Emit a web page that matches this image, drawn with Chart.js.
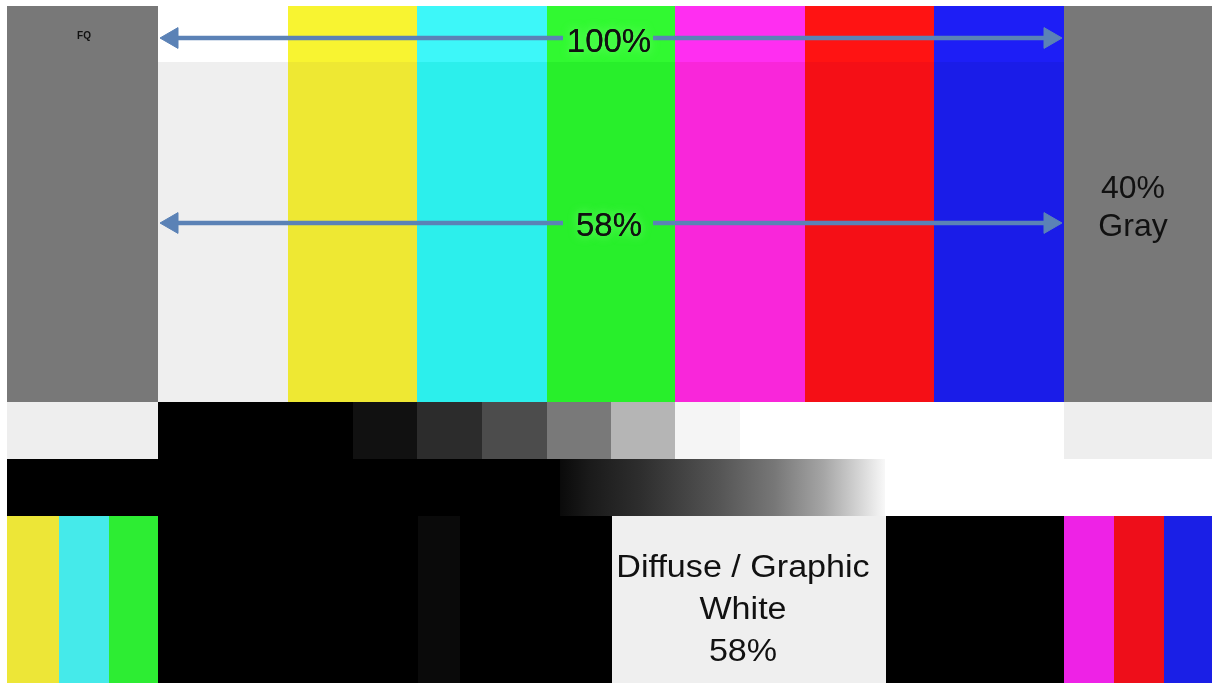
<!DOCTYPE html>
<html>
<head>
<meta charset="utf-8">
<script src="https://cdn.jsdelivr.net/npm/chart.js@4.4.1/dist/chart.umd.min.js"></script>
<style>
  html, body { margin: 0; padding: 0; background: #ffffff; overflow: hidden; }
  canvas { display: block; }
</style>
</head>
<body>
<canvas id="c" width="1212" height="683"></canvas>
<script>
// ---------- values (pattern units = picture pixels) ----------
const bandNames  = ['100% bars', '58% bars', 'grey steps', 'ramp', 'bottom row'];
const bandTop    = [6, 62, 402, 459, 516];
const bandBottom = [62, 402, 459, 516, 683];

const barNames     = ['40% Gray', 'White', 'Yellow', 'Cyan', 'Green', 'Magenta', 'Red', 'Blue', '40% Gray'];
const barEdges     = [7, 158, 288, 417, 547, 675, 805, 934, 1064, 1212];
const barColors100 = ['#787878', '#ffffff', '#f8f431', '#3df7f9', '#31f931', '#ff2ef1', '#ff1313', '#1d1ef6', '#787878'];
const barColors58  = ['#787878', '#efefef', '#eee833', '#2cefec', '#28ef2b', '#f926da', '#f50f16', '#1a1ce8', '#787878'];

const stepEdges  = [7, 158, 353, 417, 482, 547, 611, 675, 740, 1064, 1212];
const stepColors = ['#eeeeee', '#000000', '#111111', '#2c2c2c', '#4c4c4c', '#797979', '#b5b5b5', '#f5f5f5', '#ffffff', '#eeeeee'];

const rampEdges     = [7, 560, 885, 1212];
const rampFills     = ['#000000', 'ramp', '#ffffff'];
const rampStopPos   = [0, 0.09, 0.25, 0.49, 0.66, 0.81, 0.91, 1];
const rampStopGray  = [10, 26, 46, 85, 119, 165, 208, 248];

const lowEdges  = [7, 59, 109, 158, 418, 460, 612, 886, 1064, 1114, 1164, 1212];
const lowColors = ['#ede637', '#45eaea', '#2ded33', '#000000', '#0a0a0a', '#000000', '#efefef', '#000000', '#ee22e6', '#ee0e1a', '#1a1fe6'];

const arrowLevels = [38, 223];          // 100% and 58% arrows
const arrowSpan   = [160, 1062];        // arrow tips
const arrowGap    = [563, 653];         // where the label interrupts the arrow

const labelLines  = [['FQ'], ['100%'], ['58%'], ['40%', 'Gray'], ['Diffuse / Graphic', 'White', '58%']];
const labelX      = [84, 609, 609, 1133, 743];
const labelY      = [39, 52, 236, 198, 577];

// ---------- layout / style ----------
const X_MIN = 7, X_MAX = 1212, Y_MIN = 6, Y_MAX = 683;
const PX_PER_UNIT = 1;   // chart area is 1205 x 677 px for 1205 x 677 units
const ARROW_COLOR = '#5b82b6';
const HEAD_R = 12;
const FONT = '"Liberation Sans", Arial, Helvetica, sans-serif';
const labelFont    = ['bold 10px ' + FONT, '33px ' + FONT, '33px ' + FONT, '32px ' + FONT, '31px ' + FONT];
const labelStretch = [1, 1, 1, 1, 1.1];
const labelLead    = [0, 0, 0, 38, 42];
const labelHalo    = [false, true, true, false, false];

function segments(edges) {
  const out = [];
  for (let i = 0; i < edges.length - 1; i++) out.push([edges[i], edges[i + 1]]);
  return out;
}

function bandDataset(b, edges, colors) {
  const center = (bandTop[b] + bandBottom[b]) / 2;
  return {
    type: 'bar',
    label: bandNames[b],
    indexAxis: 'y',
    data: segments(edges).map(s => ({ x: s, y: center })),
    backgroundColor: colors,
    barThickness: (bandBottom[b] - bandTop[b]) * PX_PER_UNIT,
    grouped: false,
    inflateAmount: 0,
    borderWidth: 0,
    order: 2
  };
}

function rampColor(ctx) {
  const fill = rampFills[ctx.dataIndex];
  if (fill !== 'ramp') return fill;
  const chart = ctx.chart;
  const xs = chart.scales && chart.scales.x;
  if (!xs || !chart.chartArea) return '#777777';
  const g = chart.ctx.createLinearGradient(xs.getPixelForValue(rampEdges[1]), 0, xs.getPixelForValue(rampEdges[2]), 0);
  rampStopPos.forEach((p, i) => {
    const v = rampStopGray[i];
    g.addColorStop(p, `rgb(${v},${v},${v})`);
  });
  return g;
}

function arrowDataset(y) {
  const mid = (arrowGap[0] + arrowGap[1]) / 2;
  return {
    type: 'line',
    label: 'arrow',
    indexAxis: 'x',
    data: [
      { x: arrowSpan[0] + HEAD_R, y: y },
      { x: arrowGap[0], y: y },
      { x: mid, y: null },
      { x: arrowGap[1], y: y },
      { x: arrowSpan[1] - HEAD_R, y: y }
    ],
    borderColor: ARROW_COLOR,
    borderWidth: 4.5,
    spanGaps: false,
    tension: 0,
    pointStyle: 'triangle',
    pointRadius: [HEAD_R, 0, 0, 0, HEAD_R],
    pointHoverRadius: [HEAD_R, 0, 0, 0, HEAD_R],
    pointRotation: [-90, 0, 0, 0, 90],
    pointBackgroundColor: ARROW_COLOR,
    pointBorderColor: ARROW_COLOR,
    pointBorderWidth: 1,
    order: 1
  };
}

const datasets = [
  bandDataset(0, barEdges, barColors100),
  bandDataset(1, barEdges, barColors58),
  bandDataset(2, stepEdges, stepColors),
  Object.assign(bandDataset(3, rampEdges, rampFills), { backgroundColor: rampColor }),
  bandDataset(4, lowEdges, lowColors),
  ...arrowLevels.map(arrowDataset)
];

const labelPlugin = {
  id: 'patternLabels',
  afterDatasetsDraw(chart) {
    const { ctx, scales: { x, y } } = chart;
    labelLines.forEach((lines, i) => {
      lines.forEach((t, k) => {
        const px = x.getPixelForValue(labelX[i]);
        const py = y.getPixelForValue(labelY[i] + k * labelLead[i]);
        ctx.save();
        ctx.translate(px, py);
        ctx.scale(labelStretch[i], 1);
        ctx.font = labelFont[i];
        ctx.textAlign = 'center';
        ctx.textBaseline = 'alphabetic';
        ctx.fillStyle = '#111111';
        if (labelHalo[i]) {
          ctx.save();
          ctx.shadowColor = 'rgba(130,255,130,0.9)';
          ctx.shadowBlur = 10;
          ctx.fillText(t, 0, 0);
          ctx.restore();
        }
        ctx.fillText(t, 0, 0);
        ctx.restore();
      });
    });
  }
};

new Chart(document.getElementById('c'), {
  type: 'bar',
  data: { datasets },
  options: {
    responsive: false,
    animation: false,
    devicePixelRatio: 1,
    layout: { autoPadding: false, padding: { left: X_MIN, top: Y_MIN, right: 0, bottom: 0 } },
    scales: {
      x: { type: 'linear', min: X_MIN, max: X_MAX, offset: false, grace: 0, bounds: 'data', display: false },
      y: { type: 'linear', min: Y_MIN, max: Y_MAX, offset: false, grace: 0, bounds: 'data', reverse: true, display: false }
    },
    plugins: { legend: { display: false }, tooltip: { enabled: false } },
    events: []
  },
  plugins: [labelPlugin]
});
</script>
</body>
</html>
